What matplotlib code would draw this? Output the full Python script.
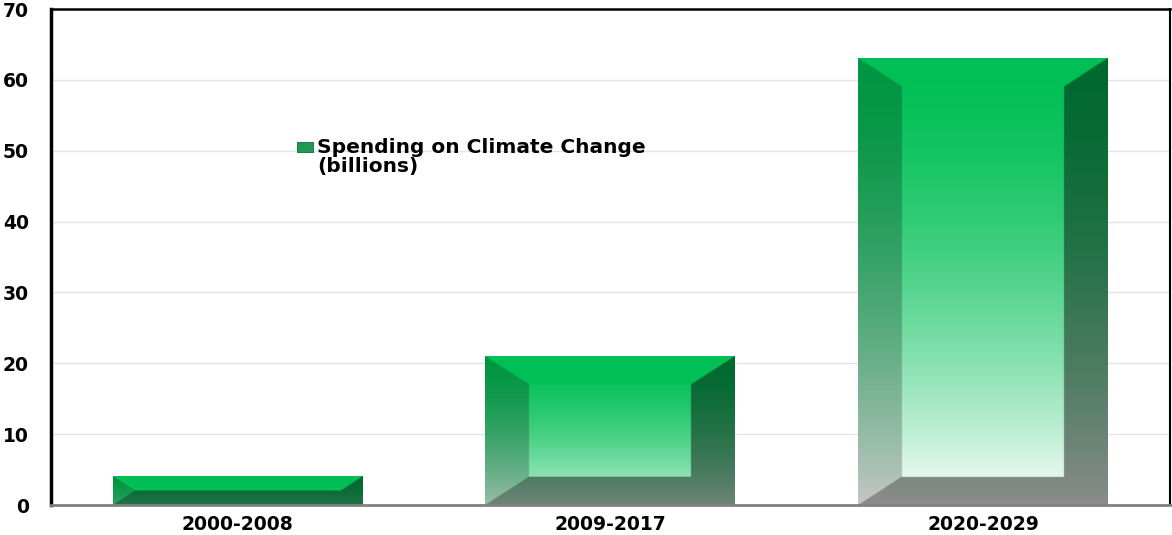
import numpy as np
import matplotlib
matplotlib.use('Agg')
import matplotlib.pyplot as plt
from matplotlib.patches import Rectangle
from matplotlib.legend_handler import HandlerPatch

# ── Data ──────────────────────────────────────────────────────────────────
periods = ['2000-2008', '2009-2017', '2020-2029']
spending = [4, 21, 63]
series_label = 'Spending on Climate Change\n(billions)'
y_ticks = list(range(0, 71, 10))

# ── Bevel styling ─────────────────────────────────────────────────────────
BAR_WIDTH = 0.67
BEVEL_X = 0.118      # bevel depth along x (category units)
BEVEL_Y = 4.0        # bevel depth along y (data units)
GREEN = np.array([0, 191, 85]) / 255
SHADE = [1.0, 0.78, 0.55, 0.55]   # top, left, right, bottom faces


def bevel_image(width, height, nx=500, ny=700):
    """RGB array for a bevelled bar: lit top, shaded sides, faded front."""
    xs = (np.arange(nx) + 0.5) / nx * width
    ys = (np.arange(ny) + 0.5) / ny * height
    X, Y = np.meshgrid(xs, ys)

    d = min(BEVEL_Y, height / 2)
    dxx = BEVEL_X * d / BEVEL_Y
    front = (X > dxx) & (width - X > dxx) & (Y > d) & (height - Y > d)

    # which bevel face each pixel falls on
    dist = np.stack([(height - Y) / BEVEL_Y, X / BEVEL_X,
                     (width - X) / BEVEL_X, Y / BEVEL_Y])
    face = np.argmin(dist, axis=0)

    # front gradient: saturated green at the top fading to mint at the base
    t = Y / height
    k = 1 - np.exp(-height / 14)
    w = k * (1 - t) ** 1.6
    base = GREEN + w[..., None] * (1 - GREEN)

    img = base.copy()
    for i, s in enumerate(SHADE):
        m = (~front) & (face == i)
        src = np.broadcast_to(GREEN, base.shape) if i == 0 else base
        img[m] = src[m] * s
    return np.clip(img, 0, 1)


fig, ax = plt.subplots(figsize=(11.72, 5.35), dpi=100)
fig.subplots_adjust(left=0.0435, right=0.998, bottom=0.056, top=0.983)

x = np.arange(len(periods))
bars = ax.bar(x, spending, width=BAR_WIDTH, color='none', edgecolor='none')

for rect in bars:
    x0, w, h = rect.get_x(), rect.get_width(), rect.get_height()
    ax.imshow(bevel_image(w, h), extent=(x0, x0 + w, 0, h), origin='lower',
              aspect='auto', interpolation='bilinear', zorder=2)

ax.set_xlim(-0.5, len(periods) - 0.5)
ax.set_ylim(0, 70)
ax.set_xticks(x)
ax.set_xticklabels(periods)
ax.set_yticks(y_ticks)

ax.yaxis.grid(True, color='#e4e4e4', linewidth=1)
ax.set_axisbelow(True)
ax.tick_params(length=0)
ax.tick_params(axis='y', pad=16)
ax.tick_params(axis='x', pad=7)
for lbl in ax.get_xticklabels() + ax.get_yticklabels():
    lbl.set_fontweight('bold')
    lbl.set_fontsize(13.5)

ax.spines['left'].set_linewidth(2.5)
ax.spines['top'].set_linewidth(1.8)
ax.spines['right'].set_linewidth(1.5)
ax.spines['bottom'].set_linewidth(2)
ax.spines['bottom'].set_color('#808080')


# legend swatch sits beside the first line of the two-line label
def top_swatch(legend, orig_handle, xdescent, ydescent, width, height, fontsize):
    return Rectangle((-xdescent, -ydescent + fontsize * 0.5), width, height)


proxy = Rectangle((0, 0), 1, 1, facecolor='#1f9a55', edgecolor='#0d6b38',
                  linewidth=0.6)
leg = ax.legend([proxy], [series_label], loc='upper left',
                bbox_to_anchor=(0.2035, 0.777), frameon=False,
                prop={'weight': 'bold', 'size': 14.5},
                handlelength=0.8, handleheight=0.35, handletextpad=0.2,
                handler_map={Rectangle: HandlerPatch(patch_func=top_swatch)})
leg.get_texts()[0].set_linespacing(1.0)

plt.savefig('out.png', dpi=100)
plt.close()
